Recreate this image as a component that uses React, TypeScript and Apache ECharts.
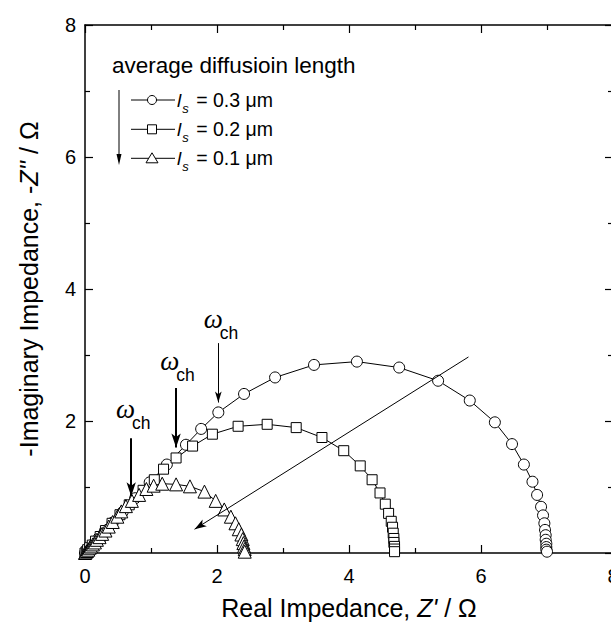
import React, { useEffect, useRef } from 'react';
import * as echarts from 'echarts';

// ---- tick labels ----
const xTicks = [0, 2, 4, 6, 8];
const yTicks = [0, 2, 4, 6, 8];
const yHiddenLabels = [0];

// ---- series values [Z', -Z''] ----
const ls03: number[][] = [
  [0.0, 0.0], [0.02, 0.02], [0.05, 0.05], [0.09, 0.1], [0.14, 0.15], [0.21, 0.23], [0.3, 0.33],
  [0.42, 0.46], [0.57, 0.62], [0.76, 0.83], [0.98, 1.07], [1.24, 1.34], [1.53, 1.64], [1.76, 1.88],
  [2.02, 2.13], [2.41, 2.41], [2.88, 2.66], [3.47, 2.85], [4.12, 2.9], [4.76, 2.81], [5.35, 2.61],
  [5.83, 2.31], [6.21, 1.98], [6.47, 1.65], [6.65, 1.34], [6.78, 1.08], [6.85, 0.88], [6.91, 0.7],
  [6.94, 0.57], [6.96, 0.45], [6.97, 0.35], [6.98, 0.27], [6.98, 0.2], [6.99, 0.14], [6.99, 0.09],
  [6.99, 0.05], [7.0, 0.02],
];
const ls02: number[][] = [
  [0.0, 0.0], [0.02, 0.02], [0.04, 0.05], [0.07, 0.08], [0.11, 0.12], [0.16, 0.18], [0.23, 0.25],
  [0.31, 0.34], [0.41, 0.45], [0.53, 0.58], [0.67, 0.73], [0.88, 0.95], [1.05, 1.11], [1.19, 1.27],
  [1.38, 1.44], [1.63, 1.62], [1.93, 1.8], [2.32, 1.92], [2.76, 1.95], [3.2, 1.9], [3.59, 1.75],
  [3.92, 1.55], [4.17, 1.32], [4.35, 1.11], [4.47, 0.91], [4.55, 0.74], [4.6, 0.6], [4.64, 0.48],
  [4.66, 0.39], [4.67, 0.3], [4.68, 0.22], [4.68, 0.16], [4.69, 0.1], [4.69, 0.06], [4.69, 0.02],
];
const ls01: number[][] = [
  [0.0, 0.0], [0.01, 0.01], [0.03, 0.03], [0.05, 0.05], [0.07, 0.08], [0.09, 0.1], [0.12, 0.13],
  [0.15, 0.16], [0.18, 0.2], [0.22, 0.24], [0.26, 0.29], [0.31, 0.34], [0.36, 0.4], [0.42, 0.47],
  [0.49, 0.55], [0.55, 0.63], [0.62, 0.71], [0.71, 0.79], [0.82, 0.88], [0.93, 0.97], [1.04, 1.02],
  [1.17, 1.05], [1.38, 1.04], [1.59, 1.01], [1.81, 0.93], [1.98, 0.79], [2.11, 0.66], [2.21, 0.55],
  [2.28, 0.45], [2.33, 0.36], [2.37, 0.28], [2.39, 0.21], [2.4, 0.15], [2.41, 0.1], [2.42, 0.06],
  [2.42, 0.02],
];

// ---- legend ----
const legendTitle = 'average diffusioin length';
const lsValues = ['0.3', '0.2', '0.1'];
const seriesNames = lsValues.map((v) => `ls = ${v} μm`);

// ---- annotations (data coordinates) ----
// ω_ch arrows: [x, yTop, yTip]
const omegaArrows: number[][] = [
  [2.02, 3.18, 2.28],
  [1.38, 2.5, 1.6],
  [0.7, 1.74, 0.86],
];
// ω_ch label anchors: [x of ω left edge, mid y]
const omegaLabels: number[][] = [
  [1.8, 3.44],
  [1.14, 2.8],
  [0.47, 2.07],
];
// trend arrow: [start, tip]
const trendArrow: number[][] = [
  [5.81, 2.97],
  [1.66, 0.36],
];

const F = "'Liberation Sans', Arial, Helvetica, sans-serif";

export default function App() {
  const ref = useRef<HTMLDivElement>(null);

  useEffect(() => {
    if (!ref.current) return;
    const chart = echarts.init(ref.current, undefined, { renderer: 'svg' });

    const axisCommon = (ticks: number[]) => ({
      type: 'value',
      min: ticks[0],
      max: ticks[ticks.length - 1],
      interval: ticks[1] - ticks[0],
      axisLine: { show: true, onZero: false, lineStyle: { color: '#000', width: 1.5 } },
      axisTick: { show: true, inside: true, length: 8, lineStyle: { color: '#000', width: 1.2 } },
      minorTick: { show: true, splitNumber: 2, length: 5, lineStyle: { color: '#000', width: 1.2 } },
      splitLine: { show: false },
      minorSplitLine: { show: false },
    });

    const mkSeries = (name: string, data: number[][], symbol: string, size: number) => ({
      type: 'line',
      name,
      data,
      symbol,
      symbolSize: size,
      showSymbol: true,
      showAllSymbol: true,
      xAxisIndex: 0,
      yAxisIndex: 0,
      lineStyle: { color: '#000', width: 1 },
      itemStyle: { color: '#fff', borderColor: '#000', borderWidth: 1 },
      emphasis: { disabled: true },
      silent: true,
      clip: false,
    });

    const arrowLines: any[] = omegaArrows.map((a, i) => [
      { coord: [a[0], a[1]], lineStyle: { width: i === 0 ? 1 : 2 } },
      { coord: [a[0], a[2]], symbol: 'arrow', symbolSize: i === 0 ? [5, 11] : [7, 14] },
    ]);
    arrowLines.push([
      { coord: trendArrow[0], lineStyle: { width: 1 } },
      { coord: trendArrow[1], symbol: 'arrow', symbolSize: [6, 12] },
    ]);

    const rowY = [100, 129.3, 158.3];
    const legendChildren: any[] = [
      {
        type: 'text',
        x: 112,
        y: 65,
        style: { text: legendTitle, fill: '#000', font: `22.5px ${F}`, verticalAlign: 'middle', align: 'left' },
      },
      { type: 'line', shape: { x1: 119, y1: 90, x2: 119, y2: 157 }, style: { stroke: '#000', lineWidth: 1 } },
      { type: 'polygon', shape: { points: [[116.5, 154], [121.5, 154], [119, 165]] }, style: { fill: '#000' } },
    ];
    rowY.forEach((y, i) => {
      legendChildren.push({
        type: 'line',
        shape: { x1: 131, y1: y, x2: 175, y2: y },
        style: { stroke: '#000', lineWidth: 1 },
      });
      const mstyle = { fill: '#fff', stroke: '#000', lineWidth: 1 };
      if (i === 0) legendChildren.push({ type: 'circle', shape: { cx: 152, cy: y, r: 4.5 }, style: mstyle });
      if (i === 1) legendChildren.push({ type: 'rect', shape: { x: 147.5, y: y - 4.5, width: 9, height: 9 }, style: mstyle });
      if (i === 2)
        legendChildren.push({
          type: 'polygon',
          shape: { points: [[152, y - 5.5], [146, y + 4.5], [158, y + 4.5]] },
          style: mstyle,
        });
      legendChildren.push({
        type: 'text',
        x: 177,
        y,
        style: {
          text: `{i|l}{s|s}{t| = ${lsValues[i]} μm}`,
          verticalAlign: 'middle',
          align: 'left',
          rich: {
            i: { fontSize: 19, fontStyle: 'italic', fontFamily: F, fill: '#000', lineHeight: 20 },
            s: { fontSize: 13, fontStyle: 'italic', fontFamily: F, fill: '#000', lineHeight: 13, padding: [16, 2, 0, 1] },
            t: { fontSize: 19.5, fontFamily: F, fill: '#000', lineHeight: 20 },
          },
        },
      });
    });

    const option: any = {
      animation: false,
      backgroundColor: '#fff',
      grid: { left: 85, right: -2, top: 25, bottom: 70, containLabel: false, outerBoundsMode: 'none' },
      xAxis: [
        {
          ...axisCommon(xTicks),
          position: 'bottom',
          axisLabel: { show: true, color: '#000', fontSize: 20, fontFamily: F, margin: 13 },
          name: "Real Impedance, {i|Z'} / Ω",
          nameLocation: 'middle',
          nameGap: 42,
          nameTextStyle: {
            color: '#000',
            fontSize: 25,
            fontFamily: F,
            rich: { i: { fontSize: 25, fontFamily: F, fontStyle: 'italic', color: '#000' } },
          },
        },
        { ...axisCommon(xTicks), position: 'top', axisLabel: { show: false } },
      ],
      yAxis: [
        {
          ...axisCommon(yTicks),
          position: 'left',
          axisLabel: {
            show: true,
            color: '#000',
            fontSize: 20,
            fontFamily: F,
            margin: 9,
            formatter: (v: number) => (yHiddenLabels.includes(v) ? '' : String(v)),
          },
          name: "-Imaginary Impedance, -{i|Z''} / Ω",
          nameLocation: 'middle',
          nameGap: 44,
          nameTextStyle: {
            color: '#000',
            fontSize: 25,
            fontFamily: F,
            rich: { i: { fontSize: 25, fontFamily: F, fontStyle: 'italic', color: '#000' } },
          },
        },
        { ...axisCommon(yTicks), position: 'right', axisLabel: { show: false } },
      ],
      series: [
        mkSeries(seriesNames[0], ls03, 'circle', 11),
        mkSeries(seriesNames[1], ls02, 'rect', 10),
        mkSeries(seriesNames[2], ls01, 'triangle', 13),
        {
          type: 'scatter',
          name: 'annotations',
          data: omegaLabels,
          symbolSize: 0,
          itemStyle: { color: '#000', opacity: 1 },
          silent: true,
          clip: false,
          z: 5,
          label: {
            show: true,
            position: 'inside',
            align: 'left',
            verticalAlign: 'middle',
            color: '#000',
            opacity: 1,
            textBorderWidth: 0,
            formatter: '{w|ω}\n{c|ch}',
            rich: {
              w: { fontSize: 27, fontFamily: "'Liberation Serif', 'Times New Roman', serif", fontStyle: 'italic', color: '#000', textBorderWidth: 0, lineHeight: 14 },
              c: { fontSize: 17.5, fontFamily: F, color: '#000', textBorderWidth: 0, lineHeight: 14, padding: [0, 0, 0, 16] },
            },
          },
          markLine: {
            silent: true,
            animation: false,
            symbol: ['none', 'arrow'],
            label: { show: false },
            emphasis: { disabled: true },
            lineStyle: { color: '#000', type: 'solid', width: 1 },
            itemStyle: { color: '#000' },
            data: arrowLines,
          },
        },
      ],
      graphic: [{ type: 'group', children: legendChildren }],
    };

    chart.setOption(option);
    return () => chart.dispose();
  }, []);

  return (
    <div
      ref={ref}
      style={{ position: 'fixed', left: 0, top: 0, width: 611, height: 623, background: '#fff' }}
    />
  );
}
